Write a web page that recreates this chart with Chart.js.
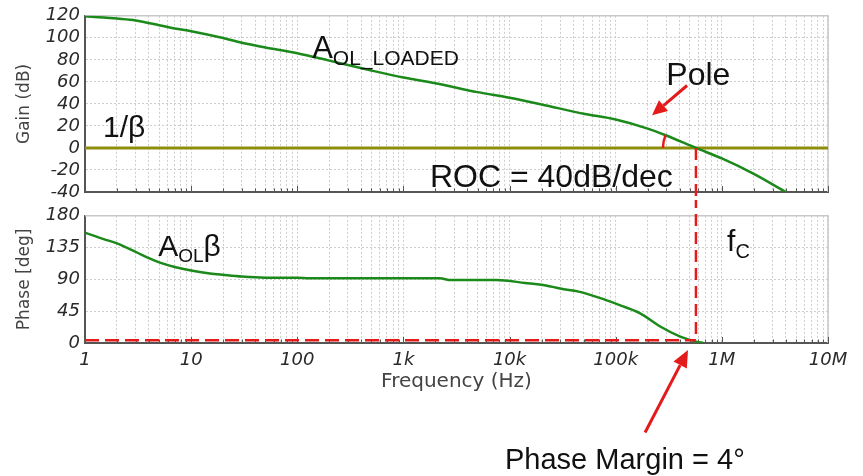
<!DOCTYPE html>
<html>
<head>
<meta charset="utf-8">
<script src="https://cdn.jsdelivr.net/npm/chart.js@4.4.1/dist/chart.umd.min.js"></script>
<style>
  html, body { margin: 0; padding: 0; background: #fff; }
  #wrap { position: relative; width: 863px; height: 476px; overflow: hidden; }
  #gainChart { position: absolute; left: 0; top: 0; }
  #phaseChart { position: absolute; left: 0; top: 200px; }
</style>
</head>
<body>
<div id="wrap">
  <canvas id="gainChart" width="863" height="208"></canvas>
  <canvas id="phaseChart" width="863" height="276"></canvas>
</div>
<script>
// ---- datos ----
const gainFreqHz = [1, 1.5, 2, 3, 5, 7, 10, 20, 30, 50, 100, 200, 500, 1e3, 2e3, 5e3, 1e4, 2e4, 5e4, 1e5, 2e5, 3e5, 5.7e5, 1e6, 2e6, 4e6];
const gainDb     = [119.5, 118.5, 117.5, 115.8, 111.5, 108.5, 106, 99.8, 95.5, 91.3, 86, 79.3, 70.3, 64, 58.8, 50.7, 45.5, 39.5, 31.1, 25.8, 17.6, 11.3, 0, -9.5, -23.5, -40];

const phaseFreqHz = [1, 1.5, 2, 3, 4, 5, 7, 10, 15, 20, 30, 50, 100, 130, 1e3, 2.2e3, 2.8e3, 7.5e3, 1.4e4, 2.2e4, 3e4, 4.7e4, 8e4, 1.12e5, 1.7e5, 2.65e5, 4e5, 5.7e5, 6.7e5];
const phaseDeg    = [156, 147, 141, 129, 120, 114, 107.5, 102.5, 98.5, 96.5, 94, 92.5, 92.5, 91.5, 91.5, 91.5, 89, 89, 85, 81.5, 77, 72, 61, 53, 42, 23, 9.5, 2, 0];

const betaFreqHz = [1, 1e7];
const betaDb = [0, 0];

const crossoverHz = 5.7e5;
const phaseMarginDeg = 4;

const freqTickLabels = ['1', '10', '100', '1k', '10k', '100k', '1M', '10M'];
const gainRange = [-40, 120];
const gainStep = 20;
const phaseRange = [0, 180];
const phaseStep = 45;

// posiciones de líneas de rejilla: 1..9 por década
const freqGridValues = [];
for (let d = 0; d < 7; d++) {
  for (let m = 1; m <= 9; m++) freqGridValues.push(m * Math.pow(10, d));
}
freqGridValues.push(1e7);

// los dos lienzos se solapan estos píxeles (la línea vertical roja cruza ambos)
const canvasOverlap = 8;

const green = '#1b8a1b';
const olive = '#8e8e0c';
const red = '#e31b1b';
const textFont = '"Liberation Sans", Arial, sans-serif';
const tickFont = { family: '"DejaVu Sans", sans-serif', size: 18, style: 'italic' };

const isDecade = (v) => {
  const e = Math.log10(v);
  return Math.abs(e - Math.round(e)) < 1e-9;
};

// ---- utilidades de dibujo ----
function drawParts(ctx, x, y, parts) {
  let cx = x;
  parts.forEach(p => {
    ctx.font = p.size + 'px ' + textFont;
    ctx.fillText(p.text, cx, y + (p.dy || 0));
    cx += ctx.measureText(p.text).width;
  });
}

function drawArrow(ctx, x1, y1, x2, y2, headLen, headW) {
  const ang = Math.atan2(y2 - y1, x2 - x1);
  const bx = x2 - headLen * Math.cos(ang);
  const by = y2 - headLen * Math.sin(ang);
  ctx.beginPath();
  ctx.moveTo(x1, y1);
  ctx.lineTo(bx, by);
  ctx.stroke();
  ctx.beginPath();
  ctx.moveTo(x2, y2);
  ctx.lineTo(bx + headW / 2 * Math.sin(ang), by - headW / 2 * Math.cos(ang));
  ctx.lineTo(bx - headW / 2 * Math.sin(ang), by + headW / 2 * Math.cos(ang));
  ctx.closePath();
  ctx.fill();
}

// marco claro arriba/derecha y marcas internas del eje inferior
function drawFrame(chart) {
  const { ctx, chartArea: a, scales: { x } } = chart;
  ctx.save();
  ctx.strokeStyle = '#c8c8c8';
  ctx.lineWidth = 1.5;
  ctx.beginPath();
  ctx.moveTo(a.left, a.top);
  ctx.lineTo(a.right, a.top);
  ctx.lineTo(a.right, a.bottom);
  ctx.stroke();
  ctx.strokeStyle = '#555';
  ctx.lineWidth = 1;
  x.ticks.forEach(t => {
    const px = Math.round(x.getPixelForValue(t.value)) + 0.5;
    const len = isDecade(t.value) ? 6 : 3.5;
    ctx.beginPath();
    ctx.moveTo(px, a.bottom);
    ctx.lineTo(px, a.bottom - len);
    ctx.stroke();
  });
  ctx.restore();
}

function freqScale(showLabels, height, titleOpts) {
  return {
    type: 'logarithmic',
    min: 1,
    max: 1e7,
    afterBuildTicks: (axis) => {
      axis.ticks = freqGridValues.map(v => ({ value: v }));
    },
    afterFit: (axis) => { axis.height = height; },
    grid: { color: '#cdcdcd', lineWidth: 1, drawTicks: false },
    border: { display: true, color: '#555', width: 2, dash: [2, 2] },
    ticks: {
      display: showLabels,
      autoSkip: false,
      maxRotation: 0,
      padding: 7,
      color: '#2a2a2a',
      font: tickFont,
      callback: (v) => isDecade(v) ? freqTickLabels[Math.round(Math.log10(v))] : ''
    },
    title: titleOpts || { display: false }
  };
}

function valueScale(range, step, title) {
  return {
    min: range[0],
    max: range[1],
    afterFit: (axis) => { axis.width = 85; },
    grid: { color: '#cdcdcd', lineWidth: 1, drawTicks: false },
    border: { display: true, color: '#555', width: 2, dash: [2, 2] },
    ticks: {
      stepSize: step,
      autoSkip: false,
      padding: 5,
      color: '#2a2a2a',
      font: tickFont
    },
    title: {
      display: true,
      text: title,
      color: '#444',
      padding: { top: 14, bottom: 0 },
      font: { family: '"DejaVu Sans", sans-serif', size: 17 }
    }
  };
}

const toPoints = (xs, ys) => xs.map((x, i) => ({ x: x, y: ys[i] }));

// ---- anotaciones de la gráfica de ganancia ----
const gainOverlay = {
  id: 'gainOverlay',
  beforeDatasetsDraw(chart) { drawFrame(chart); },
  afterDatasetsDraw(chart) {
    const { ctx, scales: { x, y } } = chart;
    const cx = x.getPixelForValue(crossoverHz);
    const cy = y.getPixelForValue(0);
    ctx.save();
    // línea vertical discontinua hacia la gráfica de fase
    ctx.strokeStyle = red;
    ctx.lineWidth = 2.5;
    ctx.setLineDash([12, 6]);
    ctx.beginPath();
    ctx.moveTo(cx, cy);
    ctx.lineTo(cx, chart.height - canvasOverlap);
    ctx.stroke();
    ctx.setLineDash([]);

    // arco del ángulo de cierre
    const px = x.getPixelForValue(3e5);
    const py = y.getPixelForValue(11.3);
    let ang = Math.atan2(py - cy, px - cx);
    if (ang < 0) ang += Math.PI * 2;
    ctx.lineWidth = 2.5;
    ctx.beginPath();
    ctx.arc(cx, cy, 33, Math.PI, ang);
    ctx.stroke();

    // flecha del polo
    ctx.fillStyle = red;
    ctx.lineWidth = 3;
    drawArrow(ctx, x.getPixelForValue(4.7e5), y.getPixelForValue(56.7),
      x.getPixelForValue(2.2e5), y.getPixelForValue(29.6), 15, 14);

    // textos
    ctx.fillStyle = '#111';
    ctx.textBaseline = 'alphabetic';
    drawParts(ctx, x.getPixelForValue(138), y.getPixelForValue(82), [
      { text: 'A', size: 31 }, { text: 'OL_LOADED', size: 21, dy: 7 }
    ]);
    drawParts(ctx, x.getPixelForValue(1.48), y.getPixelForValue(9.7), [{ text: '1/β', size: 30 }]);
    drawParts(ctx, x.getPixelForValue(3.0e5), y.getPixelForValue(57.6), [{ text: 'Pole', size: 32 }]);
    drawParts(ctx, x.getPixelForValue(1778), y.getPixelForValue(-35.5), [{ text: 'ROC = 40dB/dec', size: 32 }]);
    ctx.restore();
  }
};

// ---- anotaciones de la gráfica de fase ----
const phaseOverlay = {
  id: 'phaseOverlay',
  beforeDatasetsDraw(chart) { drawFrame(chart); },
  afterDatasetsDraw(chart) {
    const { ctx, scales: { x, y } } = chart;
    const cx = x.getPixelForValue(crossoverHz);
    const pmY = y.getPixelForValue(phaseMarginDeg);
    ctx.save();
    ctx.strokeStyle = red;
    ctx.lineWidth = 2.5;
    ctx.setLineDash([12, 6]);
    ctx.lineDashOffset = 4;
    ctx.beginPath();
    ctx.moveTo(cx, 0);
    ctx.lineTo(cx, pmY);
    ctx.stroke();
    ctx.lineDashOffset = 0;
    ctx.setLineDash([14, 6]);
    ctx.beginPath();
    ctx.moveTo(x.getPixelForValue(1), pmY);
    ctx.lineTo(cx, pmY);
    ctx.stroke();
    ctx.setLineDash([]);

    // flecha del margen de fase
    ctx.fillStyle = red;
    ctx.lineWidth = 3;
    drawArrow(ctx, x.getPixelForValue(1.89e5), y.getPixelForValue(-126.6),
      x.getPixelForValue(4.8e5), y.getPixelForValue(-9.9), 17, 15);

    ctx.fillStyle = '#111';
    drawParts(ctx, x.getPixelForValue(4.9), y.getPixelForValue(123.8), [
      { text: 'A', size: 30 }, { text: 'OL', size: 19, dy: 6 }, { text: 'β', size: 30 }
    ]);
    drawParts(ctx, x.getPixelForValue(1.12e6), y.getPixelForValue(130.8), [
      { text: 'f', size: 30 }, { text: 'C', size: 20, dy: 7 }
    ]);
    drawParts(ctx, x.getPixelForValue(9.06e3), y.getPixelForValue(-178.6), [
      { text: 'Phase Margin = 4°', size: 29 }
    ]);
    ctx.restore();
  }
};

const baseOptions = {
  responsive: false,
  animation: false,
  events: [],
  plugins: { legend: { display: false }, tooltip: { enabled: false } }
};

new Chart(document.getElementById('gainChart').getContext('2d'), {
  type: 'scatter',
  data: {
    datasets: [
      {
        data: toPoints(gainFreqHz, gainDb),
        showLine: true, borderColor: green, borderWidth: 2.5,
        pointRadius: 0, cubicInterpolationMode: 'monotone'
      },
      {
        data: toPoints(betaFreqHz, betaDb),
        showLine: true, borderColor: olive, borderWidth: 3, pointRadius: 0
      }
    ]
  },
  options: Object.assign({}, baseOptions, {
    layout: { padding: { top: 15, right: 35, bottom: 0, left: 0 } },
    scales: {
      x: freqScale(false, 16),
      y: valueScale(gainRange, gainStep, 'Gain (dB)')
    }
  }),
  plugins: [gainOverlay]
});

new Chart(document.getElementById('phaseChart').getContext('2d'), {
  type: 'scatter',
  data: {
    datasets: [
      {
        data: toPoints(phaseFreqHz, phaseDeg),
        showLine: true, borderColor: green, borderWidth: 2.5,
        pointRadius: 0, cubicInterpolationMode: 'monotone'
      }
    ]
  },
  options: Object.assign({}, baseOptions, {
    layout: { padding: { top: 15, right: 35, bottom: 78, left: 0 } },
    scales: {
      x: freqScale(true, 55, {
        display: true,
        text: 'Frequency (Hz)',
        color: '#444',
        padding: { top: 0, bottom: 4 },
        font: { family: '"DejaVu Sans", sans-serif', size: 20 }
      }),
      y: valueScale(phaseRange, phaseStep, 'Phase [deg]')
    }
  }),
  plugins: [phaseOverlay]
});
</script>
</body>
</html>
